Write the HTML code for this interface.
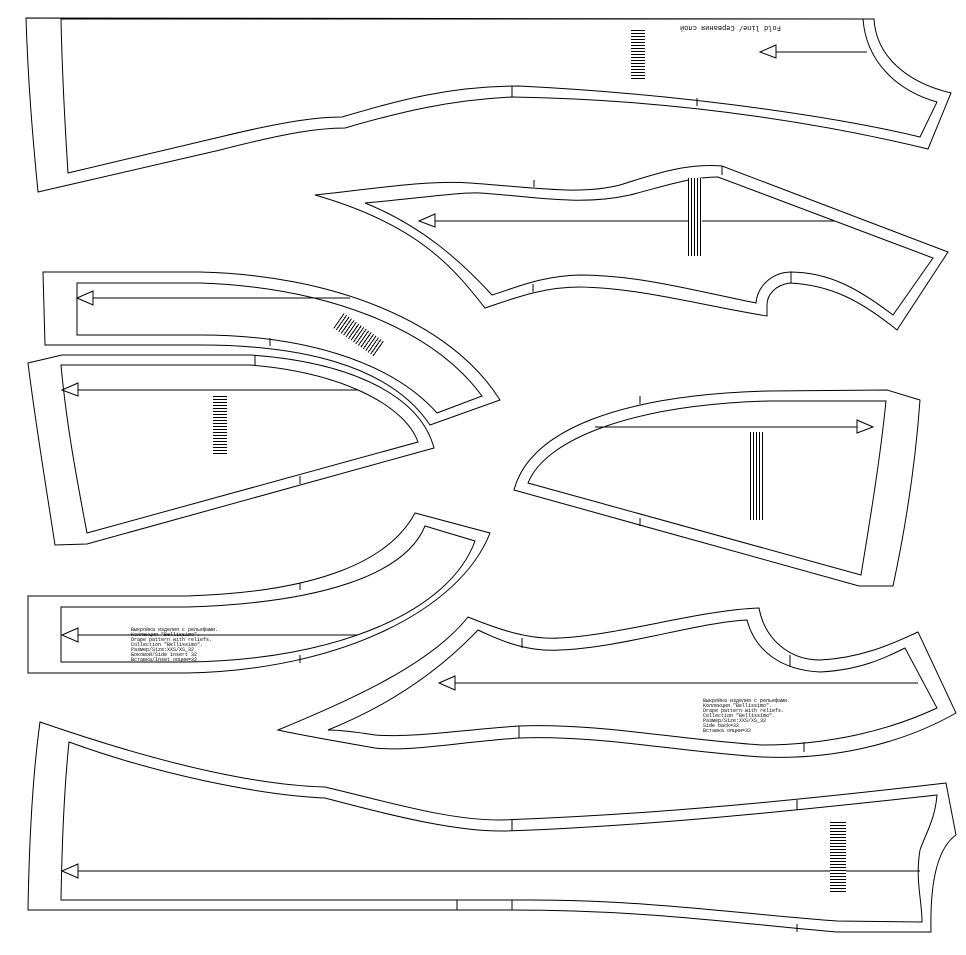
<!DOCTYPE html>
<html><head><meta charset="utf-8"><style>
html,body{margin:0;padding:0;background:#fff}
svg{display:block}
</style></head><body>
<svg width="966" height="955" viewBox="0 0 966 955" xmlns="http://www.w3.org/2000/svg" fill="none" stroke="#000" stroke-width="1">
<!-- Piece 1 -->
<path d="M26,18 L874,19 C876,55 905,82 951,93 L928,149 C850,130 700,100 512,97 C450,100 400,112 345,128 C320,128 290,132 220,150 L38,192 C32,130 28,80 26,18 Z"/>
<path d="M61,19 L863,19 C866,60 895,90 937,102 L920,137 C850,120 700,95 519,86 C450,86 400,100 342,117 C320,117 290,120 220,137 L68,173 C64,110 62,70 61,19 Z"/>
<line x1="512" y1="86" x2="512" y2="97"/><line x1="697" y1="98" x2="697" y2="106"/>
<line x1="867" y1="52" x2="776" y2="52"/><path d="M776,45 L760,52 L776,58 Z"/>
<!-- Piece 2 -->
<path d="M315,195 C380,188 430,180 470,183 C540,188 580,195 620,185 C660,172 690,163 722,166 L948,252 L897,330 C860,300 830,285 790,283 C775,285 767,295 767,305 L767,316 C700,305 640,288 580,287 C540,287 510,300 485,308 C455,270 420,225 315,195 Z"/>
<path d="M365,203 C420,198 460,192 480,193 C540,197 580,206 630,195 C665,186 690,177 718,177 L933,258 L893,315 C860,290 830,272 790,272 C770,273 757,288 756,303 C700,292 640,275 580,275 C540,276 515,288 492,295 C460,260 420,225 365,203 Z"/>
<line x1="534" y1="180" x2="534" y2="187"/><line x1="722" y1="166" x2="722" y2="175"/><line x1="533" y1="284" x2="533" y2="292"/><line x1="791" y1="272" x2="791" y2="283"/>
<line x1="835" y1="221" x2="435" y2="221"/><path d="M435,214 L419,221 L435,227 Z"/>
<!-- Piece 3 -->
<path d="M43,272 L200,272 C330,275 450,320 500,400 L430,425 C390,365 300,345 200,345 L45,345 Z"/>
<path d="M77,283 L200,283 C320,287 430,325 482,396 L437,413 C390,360 300,335 200,335 L77,335 Z"/>
<line x1="270" y1="338" x2="270" y2="346"/>
<line x1="350" y1="298" x2="93" y2="298"/><path d="M93,291 L77,298 L93,305 Z"/>
<!-- Piece 4 -->
<path d="M28,363 L62,355 L250,355 C350,362 420,395 434,448 L87,544 L55,545 C45,480 35,420 28,363 Z"/>
<path d="M61,365 L250,365 C340,372 405,405 418,442 L87,533 C75,470 66,420 61,365 Z"/>
<line x1="255" y1="355" x2="255" y2="365"/><line x1="300" y1="476" x2="300" y2="484"/>
<line x1="358" y1="390" x2="78" y2="390"/><path d="M78,383 L62,390 L78,396 Z"/>
<!-- Piece 5 -->
<path d="M887,390 L920,400 C915,470 905,530 893,586 L859,586 L514,490 C530,430 620,395 768,391 Z"/>
<path d="M886,401 C880,460 870,520 861,575 L528,483 C545,440 630,405 768,401 Z"/>
<line x1="640" y1="396" x2="640" y2="404"/><line x1="640" y1="518" x2="640" y2="526"/>
<line x1="595" y1="427" x2="857" y2="427"/><path d="M857,420 L873,427 L857,433 Z"/>
<!-- Piece 6 -->
<path d="M28,596 L187,596 C320,592 390,560 415,513 L490,533 C460,610 340,670 187,673 L28,673 Z"/>
<path d="M61,607 L187,607 C320,603 405,575 425,526 L475,541 C450,610 340,660 187,662 L61,662 Z"/>
<line x1="300" y1="583" x2="300" y2="590"/><line x1="300" y1="655" x2="300" y2="663"/>
<line x1="358" y1="635" x2="78" y2="635"/><path d="M78,628 L62,635 L78,642 Z"/>
<!-- Piece 7 -->
<path d="M468,617 C500,630 530,640 560,638 C620,635 700,610 759,608 C765,640 790,660 820,660 C860,658 890,645 918,632 L956,713 C900,745 830,760 762,757 C680,752 600,735 519,738 C460,742 410,752 375,748 C330,740 300,735 278,730 C350,700 430,665 468,617 Z"/>
<path d="M478,630 C505,643 530,652 560,650 C620,648 700,622 747,620 C755,650 780,670 820,672 C860,670 885,658 905,648 L937,708 C890,730 830,745 762,745 C680,740 600,723 519,726 C460,730 410,738 375,735 C350,731 335,730 328,730 C390,705 440,670 478,630 Z"/>
<line x1="519" y1="738" x2="519" y2="726" /><line x1="804" y1="742" x2="804" y2="752"/><line x1="522" y1="638" x2="522" y2="648"/><line x1="790" y1="655" x2="790" y2="667"/>
<line x1="918" y1="683" x2="455" y2="683"/><path d="M455,676 L439,683 L455,690 Z"/>
<!-- Piece 8 -->
<path d="M40,722 C150,760 250,785 325,787 C400,805 450,820 500,820 C650,815 800,800 946,783 L956,835 C935,850 930,890 931,932 L837,932 C750,925 650,910 512,910 L28,910 C29,850 32,780 40,722 Z"/>
<path d="M69,742 C160,775 260,795 325,798 C400,818 460,832 506,831 C650,826 800,810 937,795 C935,820 925,835 920,850 C915,880 922,900 922,922 L837,921 C750,915 650,900 531,900 L61,900 C62,840 64,790 69,742 Z"/>
<line x1="512" y1="820" x2="512" y2="831"/><line x1="797" y1="800" x2="797" y2="810"/><line x1="457" y1="900" x2="457" y2="910"/><line x1="512" y1="900" x2="512" y2="910"/><line x1="797" y1="924" x2="797" y2="932"/>
<line x1="920" y1="871" x2="78" y2="871"/><path d="M78,864 L62,871 L78,878 Z"/>
</svg>
<div style="position:absolute;left:0;top:0;width:966px;height:955px;font-family:'Liberation Mono',monospace;font-size:5px;line-height:5px;color:#000">
<div style="position:absolute;left:680px;top:24px;font-size:7px;transform:rotate(180deg)">Fold line/ Сервания слой</div>
<div style="position:absolute;left:131px;top:628px;white-space:pre">Выкройка изделия с рельефами.
Коллекция "Bellissimo".
Drape pattern with reliefs.
Collection "Bellissimo".
Размер/Size:XXS/XS_32
Боковой/Side insert 32
Вставка/Inset опции=32</div>
<div style="position:absolute;left:703px;top:699px;white-space:pre">Выкройка изделия с рельефами.
Коллекция "Bellissimo".
Drape pattern with reliefs.
Collection "Bellissimo".
Размер/Size:XXS/XS_32
Side back=32
Вставка опции=32</div>
<div style="position:absolute;left:631px;top:30px;width:14px;height:50px;background:repeating-linear-gradient(#000 0 1px,#fff 1px 3px)"></div>
<div style="position:absolute;left:688px;top:178px;width:14px;height:78px;background:repeating-linear-gradient(90deg,#000 0 1px,#fff 1px 3px)"></div>
<div style="position:absolute;left:213px;top:396px;width:14px;height:60px;background:repeating-linear-gradient(#000 0 1px,#fff 1px 3px)"></div>
<div style="position:absolute;left:750px;top:432px;width:15px;height:88px;background:repeating-linear-gradient(90deg,#000 0 1px,#fff 1px 3px)"></div>
<div style="position:absolute;left:830px;top:822px;width:16px;height:72px;background:repeating-linear-gradient(#000 0 1px,#fff 1px 3px)"></div>
<div style="position:absolute;left:350px;top:310px;width:18px;height:50px;transform:rotate(-55deg);background:repeating-linear-gradient(#000 0 1px,#fff 1px 3px)"></div>
</div>
</body></html>
